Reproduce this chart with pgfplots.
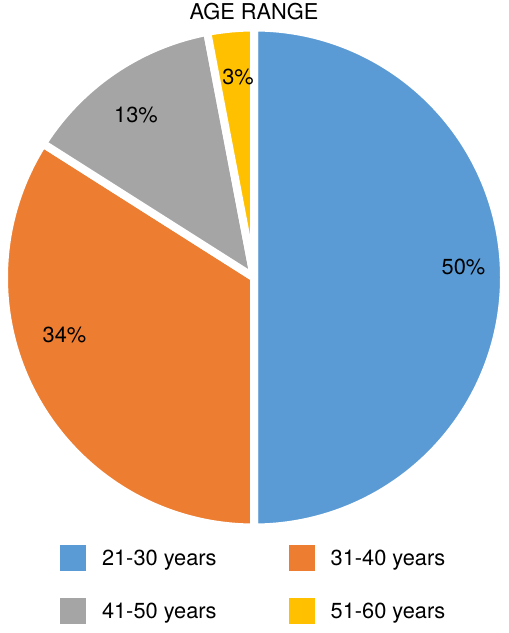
\documentclass[border=0pt]{standalone}
\usepackage{pgfplots}
\pgfplotsset{compat=1.18}
\usepackage{pgfplotstable}
\usepackage{fontspec}
\setmainfont{TeX Gyre Heros}

\definecolor{pieblue}{HTML}{5B9BD5}
\definecolor{pieorange}{HTML}{ED7D31}
\definecolor{piegray}{HTML}{A5A5A5}
\definecolor{pieyellow}{HTML}{FFC000}

% age range shares (percent), clockwise from 12 o'clock
\pgfplotstableread{
value colour
50 pieblue
34 pieorange
13 piegray
3  pieyellow
}\agedata

\newcommand{\chartfont}{\fontsize{21.8bp}{24bp}\selectfont}

\begin{document}
\begin{tikzpicture}
\useasboundingbox (0,0) rectangle (509bp,633bp);
\begin{axis}[
    at={(0,0)}, anchor=south west,
    x=250bp, y=250bp,
    xmin=-1.016, xmax=1.02,
    ymin=-1.422, ymax=1.11,
    hide axis, clip=false,
    legend image code/.code={\fill[#1, draw=none] (0bp,-6bp) rectangle (26bp,20bp);},
    legend columns=2,
    legend style={
        at={(axis cs:-0.776,-1.07)}, anchor=north west,
        draw=none, fill=none, inner sep=0pt, outer sep=0pt,
        row sep=27bp, column sep=16bp,
        /tikz/column 2/.style={column sep=72bp},
        nodes={inner sep=0pt, font=\chartfont, anchor=base west},
    },
]
\def\cumul{0}
\pgfplotsforeachungrouped \i in {0,...,3}{%
    \pgfplotstablegetelem{\i}{value}\of\agedata
    \let\val=\pgfplotsretval
    \pgfplotstablegetelem{\i}{colour}\of\agedata
    \let\col=\pgfplotsretval
    \pgfmathsetmacro\aone{90-3.6*\cumul}
    \pgfmathsetmacro\atwo{90-3.6*(\cumul+\val)}
    \pgfmathsetmacro\xs{cos(\aone)}
    \pgfmathsetmacro\ys{sin(\aone)}
    \edef\cmd{\noexpand\filldraw[fill=\col, draw=white, line width=8bp, line join=round]
        (axis cs:0,0) -- (axis cs:\xs,\ys)
        arc[start angle=\aone, end angle=\atwo, radius=250bp] -- cycle;}%
    \cmd
    \pgfmathsetmacro\cumul{\cumul+\val}%
}

\addlegendimage{fill=pieblue, draw=none}
\addlegendimage{fill=pieorange, draw=none}
\addlegendimage{fill=piegray, draw=none}
\addlegendimage{fill=pieyellow, draw=none}
\legend{21-30 years, 31-40 years, 41-50 years, 51-60 years}

\node[font=\chartfont] at (axis cs:0.838,0.042) {50\%};
\node[font=\chartfont] at (axis cs:-0.758,-0.23) {34\%};
\node[font=\chartfont] at (axis cs:-0.472,0.652) {13\%};
\node[font=\chartfont] at (axis cs:-0.064,0.804) {3\%};

\node[font=\chartfont, anchor=base] at (axis cs:0,1.03) {AGE RANGE};
\end{axis}
\end{tikzpicture}
\end{document}
